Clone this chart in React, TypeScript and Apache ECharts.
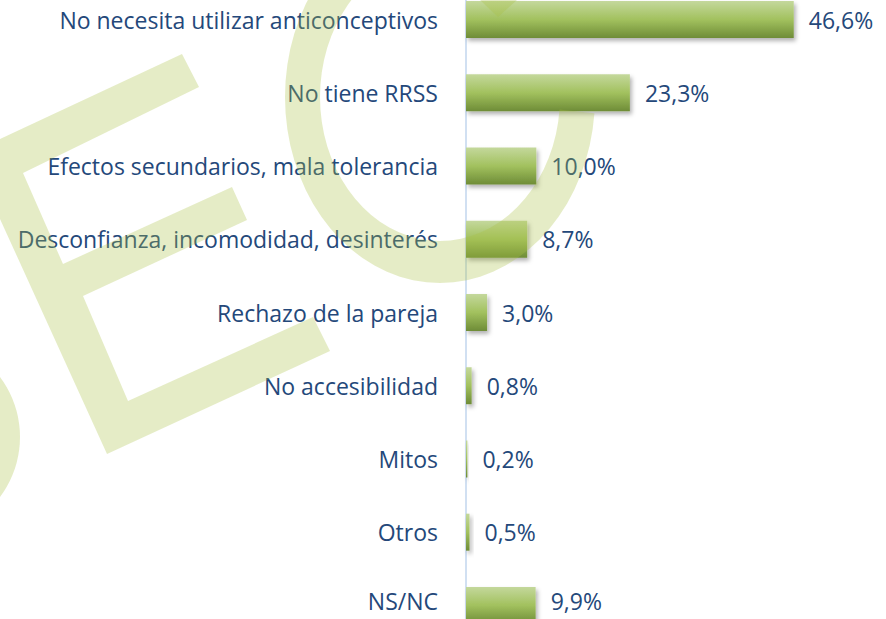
import React, { useEffect, useRef } from "react";
import * as echarts from "echarts";

const categories = [
  "No necesita utilizar anticonceptivos",
  "No tiene RRSS",
  "Efectos secundarios, mala tolerancia",
  "Desconfianza, incomodidad, desinterés",
  "Rechazo de la pareja",
  "No accesibilidad",
  "Mitos",
  "Otros",
  "NS/NC",
];
const values = [46.6, 23.3, 10.0, 8.7, 3.0, 0.8, 0.2, 0.5, 9.9];

const TEXT = "#24487a";
const WM = "rgba(168,192,65,0.3)";
const FONT = "'Open Sans', sans-serif";

// watermark "C": elliptical ring arc (decoration only)
function cShape(): number[][] {
  const cx = 440, cy = 97;
  const outer: number[][] = [];
  const inner: number[][] = [];
  for (let a = 5; a <= 300; a += 5) {
    const t = (a * Math.PI) / 180;
    outer.push([cx + 155 * Math.cos(t), cy + 186 * Math.sin(t)]);
    inner.push([cx + 120 * Math.cos(t), cy + 144 * Math.sin(t)]);
  }
  return outer.concat(inner.reverse());
}

export default function App() {
  const ref = useRef<HTMLDivElement>(null);
  useEffect(() => {
    if (!ref.current) return;
    const chart = echarts.init(ref.current, undefined, { renderer: "svg" });
    const barColor = new echarts.graphic.LinearGradient(0, 0, 0, 1, [
      { offset: 0, color: "#c4d89c" },
      { offset: 0.5, color: "#a2c15e" },
      { offset: 1, color: "#6e8c37" },
    ]);
    const last = categories.length - 1;
    const richLast = {
      b: {
        color: TEXT,
        fontSize: 23,
        lineHeight: 24,
        fontFamily: FONT,
        padding: [0, 0, 8, 0],
      },
    };
    chart.setOption({
      animation: false,
      backgroundColor: "#ffffff",
      graphic: [
        {
          type: "polygon",
          z: 100,
          silent: true,
          shape: {
            points: [
              [-30, 153], [182, 54], [199, 87], [23, 173], [63, 264],
              [232, 187], [247, 220], [83, 296], [128, 401], [313, 317],
              [330, 351], [107, 454],
            ],
          },
          style: { fill: WM },
        },
        {
          type: "polygon",
          z: 100,
          silent: true,
          shape: { points: cShape() },
          style: { fill: WM },
        },
        {
          type: "polygon",
          z: 100,
          silent: true,
          shape: { points: [[480, 0], [517, 0], [498, 17]] },
          style: { fill: WM },
        },
        {
          type: "circle",
          z: 100,
          silent: true,
          shape: { cx: -80, cy: 437, r: 100 },
          style: { fill: WM },
        },
      ],
      grid: {
        left: 466,
        top: -17,
        width: 422,
        height: 659,
        containLabel: false,
        outerBoundsMode: "none",
      },
      xAxis: {
        type: "value",
        min: 0,
        max: 60,
        show: false,
      },
      yAxis: {
        type: "category",
        data: categories,
        inverse: true,
        axisLine: { show: true, lineStyle: { color: "#c2d6ee", width: 1.5 } },
        axisTick: { show: false },
        axisLabel: {
          margin: 28,
          color: TEXT,
          fontSize: 23,
          lineHeight: 24,
          fontFamily: FONT,
          formatter: (v: string, i: number) => (i === last ? `{b|${v}}` : v),
          rich: richLast,
        },
      },
      series: [
        {
          type: "bar",
          data: values,
          barWidth: 37,
          itemStyle: {
            color: barColor,
            shadowColor: "rgba(0,0,0,0.3)",
            shadowBlur: 4,
            shadowOffsetX: 2,
            shadowOffsetY: 3,
          },
          label: {
            show: true,
            position: "right",
            distance: 15,
            color: TEXT,
            fontSize: 23,
            lineHeight: 24,
            fontFamily: FONT,
            formatter: (p: any) => {
              const s = p.value.toFixed(1).replace(".", ",") + "%";
              return p.dataIndex === last ? `{b|${s}}` : s;
            },
            rich: richLast,
          },
        },
      ],
    });
    return () => chart.dispose();
  }, []);
  return (
    <div
      ref={ref}
      style={{ position: "fixed", left: 0, top: 0, width: 886, height: 619 }}
    />
  );
}
